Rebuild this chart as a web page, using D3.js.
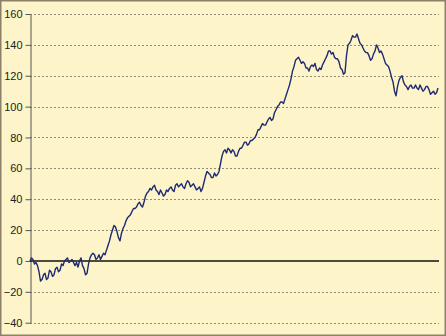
<!DOCTYPE html>
<html>
<head>
<meta charset="utf-8">
<script src="https://cdn.jsdelivr.net/npm/d3@7"></script>
<style>
  body { margin: 0; background: #fff; }
  text { font-family: "Liberation Sans", Arial, sans-serif; font-size: 11px; fill: #222; }
</style>
</head>
<body>
<div id="chart"></div>
<script>

//data
var yTicks = [-40, -20, 0, 20, 40, 60, 80, 100, 120, 140, 160];
var series = [
  0, 2, 1, -2, -1, -3, -7, -13, -12, -9, -8, -12, -11, -6, -7, -10, -9, -5, -4, -7,
  -6, -2, -3, 0, 1, 2, -1, 0, 1, -1, -3, -1, -4, 0, 2, -3, -5, -9, -8, -2,
  2, 4, 5, 4, 1, 2, 4, 1, 3, 5, 4, 7, 10, 13, 17, 20, 23, 22, 19, 15,
  13, 18, 21, 23, 26, 28, 29, 30, 32, 34, 34, 35, 37, 38, 36, 35, 38, 42, 44, 45,
  47, 46, 48, 49, 46, 45, 43, 46, 44, 42, 43, 46, 45, 47, 48, 46, 45, 49, 50, 48,
  49, 50, 48, 47, 50, 52, 51, 48, 49, 50, 48, 46, 47, 48, 45, 47, 51, 55, 58, 57,
  56, 54, 54, 57, 55, 56, 58, 63, 68, 71, 72, 70, 73, 72, 70, 72, 71, 68, 68, 71,
  73, 73, 75, 77, 77, 75, 76, 78, 78, 79, 80, 82, 85, 85, 87, 89, 88, 88, 90, 92,
  93, 91, 92, 96, 98, 100, 101, 103, 103, 102, 105, 108, 111, 114, 118, 123, 126, 130, 131, 132,
  130, 128, 129, 128, 125, 125, 123, 126, 127, 126, 128, 124, 123, 125, 124, 127, 129, 131, 133, 136,
  136, 134, 135, 132, 131, 131, 129, 125, 124, 121, 122, 133, 140, 141, 143, 146, 145, 145, 147, 144,
  141, 140, 138, 136, 135, 135, 133, 130, 131, 134, 136, 140, 138, 135, 136, 134, 131, 128, 127, 126,
  123, 119, 116, 110, 107, 113, 117, 119, 120, 116, 114, 113, 111, 113, 114, 112, 112, 114, 112, 111,
  114, 112, 110, 111, 113, 113, 111, 108, 109, 110, 108, 109, 112
];

//set margins
var W = 446, H = 336;
var margin = {top: 14, right: 7, bottom: 13, left: 30};

var svg = d3.select("#chart")
            .append("svg")
            .attr("width", W)
            .attr("height", H);

//background + frame
svg.append("rect")
    .attr("x", 0.75).attr("y", 0.75)
    .attr("width", W - 1.5).attr("height", H - 1.5)
    .style("fill", "#fdf5c9")
    .style("stroke", "#8c8068")
    .style("stroke-width", 1.5);

//scales
var xScale = d3.scaleLinear()
               .domain([0, series.length - 1])
               .range([margin.left, 438]);

var yScale = d3.scaleLinear()
               .domain([-40, 160])
               .range([322.7, margin.top]);

//gridlines
svg.append("g")
    .selectAll("line")
    .data(yTicks.filter(function(d) {return d != 0;}))
    .enter()
    .append("line")
    .attr("x1", margin.left)
    .attr("x2", 439)
    .attr("y1", function(d) {return Math.round(yScale(d)) + 0.5;})
    .attr("y2", function(d) {return Math.round(yScale(d)) + 0.5;})
    .style("stroke", "#8f8b78")
    .style("stroke-width", 1)
    .style("stroke-dasharray", "2,2");

//y axis
var yAxis = d3.axisLeft(yScale)
              .tickValues(yTicks)
              .tickSizeInner(5)
              .tickSizeOuter(0)
              .tickPadding(3);

var ya = svg.append("g")
    .attr("transform", "translate(" + (margin.left + 0.5) + ",0)")
    .call(yAxis);
ya.select(".domain").style("stroke", "#555");
ya.selectAll(".tick line").style("stroke", "#555");
ya.selectAll("text").style("font-size", "11px").style("fill", "#222");

//zero line
svg.append("line")
    .attr("x1", margin.left)
    .attr("x2", 439)
    .attr("y1", yScale(0))
    .attr("y2", yScale(0))
    .style("stroke", "#111")
    .style("stroke-width", 1.6);

//series line
var line = d3.line()
             .x(function(d, i) {return xScale(i);})
             .y(function(d) {return yScale(d);});

svg.append("path")
    .datum(series)
    .attr("d", line)
    .style("fill", "none")
    .style("stroke", "#1f2a72")
    .style("stroke-width", 1.4)
    .style("stroke-linejoin", "round");

</script>
</body>
</html>
